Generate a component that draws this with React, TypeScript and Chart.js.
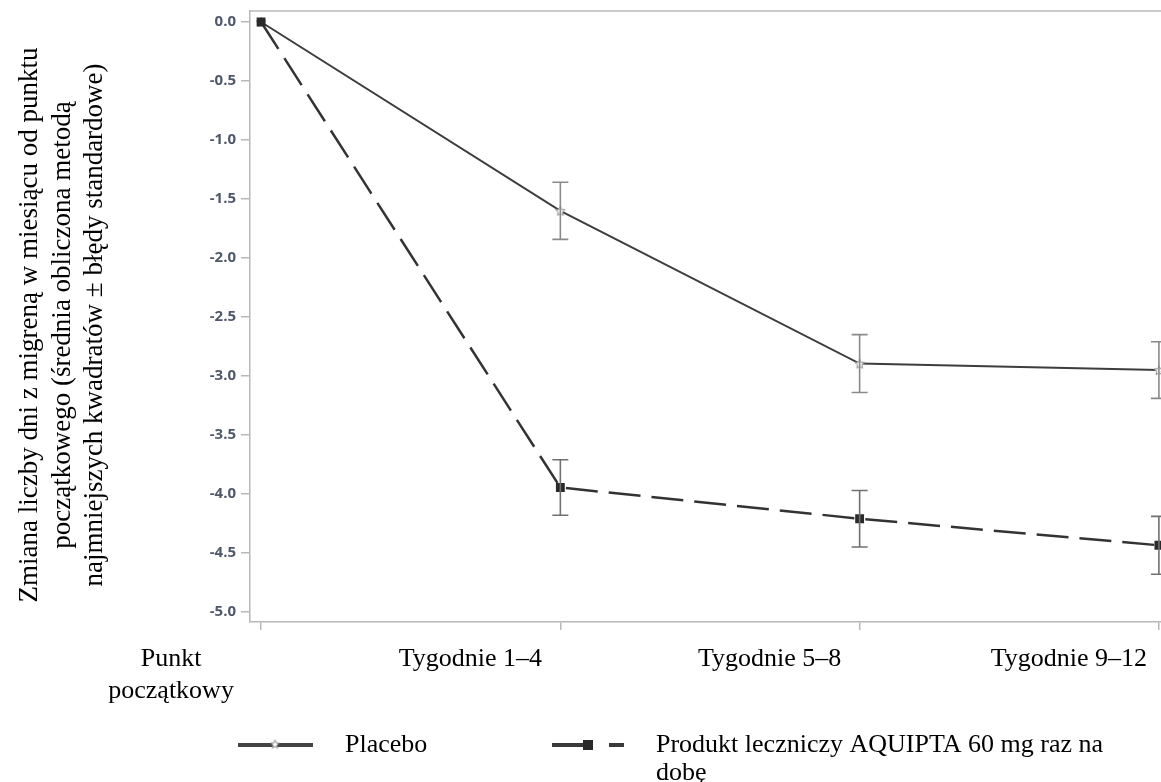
import React, { useEffect, useRef } from "react";
import { Chart, registerables } from "chart.js";

Chart.register(...registerables);

// ---- data ----
const xValues = [0, 1, 2, 3];
const xLabels: (string | string[])[] = [
  ["Punkt", "początkowy"],
  "Tygodnie 1–4",
  "Tygodnie 5–8",
  "Tygodnie 9–12",
];
const placeboMeans = [0, -1.6, -2.895, -2.95];
const placeboSE = [0, 0.242, 0.245, 0.24];
const aquiptaMeans = [0, -3.945, -4.21, -4.435];
const aquiptaSE = [0, 0.235, 0.24, 0.245];
const yTicks = [0, -0.5, -1, -1.5, -2, -2.5, -3, -3.5, -4, -4.5, -5];
const yTitleLines = [
  "Zmiana liczby dni z migreną w miesiącu od punktu",
  "początkowego (średnia obliczona metodą",
  "najmniejszych kwadratów ± błędy standardowe)",
];
const placeboLabel = "Placebo";
const aquiptaLabelLines = ["Produkt leczniczy AQUIPTA 60 mg raz na", "dobę"];

const SERIF = '"Liberation Serif", "Times New Roman", serif';

function makeStar(size: number, color: string): HTMLCanvasElement {
  const c = document.createElement("canvas");
  c.width = size;
  c.height = size;
  const g = c.getContext("2d")!;
  const cx = size / 2;
  const cy = size / 2 + 0.5;
  const R = size / 2 - 1;
  const r = R * 0.45;
  g.beginPath();
  for (let i = 0; i < 10; i++) {
    const ang = -Math.PI / 2 + (i * Math.PI) / 5;
    const rad = i % 2 === 0 ? R : r;
    const px = cx + rad * Math.cos(ang);
    const py = cy + rad * Math.sin(ang);
    if (i === 0) g.moveTo(px, py);
    else g.lineTo(px, py);
  }
  g.closePath();
  g.fillStyle = "#ffffff";
  g.fill();
  g.strokeStyle = color;
  g.lineWidth = 1;
  g.stroke();
  return c;
}

const errorBarPlugin = {
  id: "errorBars",
  afterDatasetsDraw(chart: any) {
    const { ctx, scales } = chart;
    const x = scales.x;
    const y = scales.y;
    chart.data.datasets.forEach((ds: any) => {
      const means: number[] = ds.means;
      const se: number[] = ds.se;
      ctx.save();
      ctx.strokeStyle = ds.errColor;
      ctx.lineWidth = 1.6;
      means.forEach((m, j) => {
        if (!se[j]) return;
        const px = x.getPixelForValue(xValues[j]);
        const top = y.getPixelForValue(m + se[j]);
        const bot = y.getPixelForValue(m - se[j]);
        const cap = 8;
        ctx.beginPath();
        ctx.moveTo(px, top);
        ctx.lineTo(px, bot);
        ctx.moveTo(px - cap, top);
        ctx.lineTo(px + cap, top);
        ctx.moveTo(px - cap, bot);
        ctx.lineTo(px + cap, bot);
        ctx.stroke();
      });
      ctx.restore();
    });
  },
};

const decorPlugin = {
  id: "decor",
  afterDraw(chart: any) {
    const { ctx, chartArea } = chart;
    ctx.save();
    // top frame line
    ctx.strokeStyle = "#b8b8b8";
    ctx.lineWidth = 1.5;
    ctx.beginPath();
    ctx.moveTo(chartArea.left, chartArea.top);
    ctx.lineTo(chartArea.right, chartArea.top);
    ctx.stroke();

    // y title (three rotated lines)
    ctx.fillStyle = "#000";
    ctx.font = `27px ${SERIF}`;
    ctx.textAlign = "center";
    ctx.textBaseline = "middle";
    const cy = 325;
    yTitleLines.forEach((line, i) => {
      ctx.save();
      ctx.translate(30 + i * 32.5, cy);
      ctx.rotate(-Math.PI / 2);
      ctx.fillText(line, 0, 0);
      ctx.restore();
    });

    // legend
    ctx.font = `26px ${SERIF}`;
    const ly = 745;
    ctx.strokeStyle = "#444";
    ctx.lineWidth = 4;
    ctx.setLineDash([]);
    ctx.beginPath();
    ctx.moveTo(238, ly);
    ctx.lineTo(313, ly);
    ctx.stroke();
    const star = makeStar(11, "#888");
    ctx.drawImage(star, 275 - 5.5, ly - 6.5);
    ctx.textAlign = "left";
    ctx.fillStyle = "#000";
    ctx.fillText(placeboLabel, 345, ly);

    ctx.strokeStyle = "#3a3a3a";
    ctx.beginPath();
    ctx.moveTo(552, ly);
    ctx.lineTo(592, ly);
    ctx.moveTo(609, ly);
    ctx.lineTo(624, ly);
    ctx.stroke();
    ctx.fillStyle = "#2a2a2a";
    ctx.fillRect(583, ly - 5, 10, 10);
    ctx.fillStyle = "#000";
    aquiptaLabelLines.forEach((t, i) => ctx.fillText(t, 656, ly + i * 28));
    ctx.restore();
  },
};

export default function App() {
  const ref = useRef<HTMLCanvasElement>(null);
  useEffect(() => {
    document.body.style.margin = "0";
    const starImg = makeStar(12, "#8c8c8c");
    const chart = new Chart(ref.current!, {
      type: "line",
      data: {
        datasets: [
          {
            label: placeboLabel,
            data: xValues.map((v, i) => ({ x: v, y: placeboMeans[i] })),
            borderColor: "#3d3d3d",
            borderWidth: 2,
            pointStyle: starImg as any,
            pointRadius: 6,
            order: 1,
            clip: false,
            means: placeboMeans,
            se: placeboSE,
            errColor: "#8a8a8a",
          } as any,
          {
            label: aquiptaLabelLines.join(" "),
            data: xValues.map((v, i) => ({ x: v, y: aquiptaMeans[i] })),
            borderColor: "#333",
            borderWidth: 2.5,
            borderDash: [32, 11],
            pointStyle: "rect",
            pointRadius: 4.5,
            pointBackgroundColor: "#2a2a2a",
            pointBorderColor: "#2a2a2a",
            order: 0,
            clip: false,
            means: aquiptaMeans,
            se: aquiptaSE,
            errColor: "#707070",
          } as any,
        ],
      },
      options: {
        animation: false,
        responsive: false,
        layout: { autoPadding: false, padding: { top: 11, left: 0, right: 0, bottom: 0 } },
        plugins: { legend: { display: false }, tooltip: { enabled: false } },
        scales: {
          x: {
            type: "linear",
            min: -0.037,
            max: 3.007,
            afterBuildTicks: (s: any) => {
              s.ticks = xValues.map((v) => ({ value: v }));
            },
            afterFit: (s: any) => {
              s.height = 160;
              s.paddingLeft = 0;
              s.paddingRight = 0;
            },
            ticks: {
              callback: (v: any) => xLabels[v as number] as any,
              font: { family: SERIF, size: 26 },
              color: "#000",
              labelOffset: -90,
              padding: 14,
              maxRotation: 0,
              autoSkip: false,
            },
            grid: {
              drawOnChartArea: false,
              drawTicks: true,
              tickLength: 8,
              color: "#b8b8b8",
              lineWidth: 1.5,
            },
            border: { display: true, color: "#b8b8b8", width: 1.5 },
          },
          y: {
            min: -5.085,
            max: 0.093,
            afterBuildTicks: (s: any) => {
              s.ticks = yTicks.map((v) => ({ value: v }));
            },
            afterFit: (s: any) => {
              s.width = 250;
              s.paddingTop = 0;
              s.paddingBottom = 0;
            },
            ticks: {
              callback: (v: any) => (v as number).toFixed(1),
              font: { family: '"Open Sans", sans-serif', size: 15, weight: "bold" },
              color: "#4f586b",
              padding: 5,
            },
            grid: {
              drawOnChartArea: false,
              drawTicks: true,
              tickLength: 9,
              color: "#b8b8b8",
              lineWidth: 1.5,
            },
            border: { display: true, color: "#b8b8b8", width: 1.5 },
          },
        },
      },
      plugins: [errorBarPlugin, decorPlugin],
    });
    return () => chart.destroy();
  }, []);
  return (
    <div style={{ width: 1161, height: 782, background: "#fff" }}>
      <canvas ref={ref} width={1161} height={782} />
    </div>
  );
}
